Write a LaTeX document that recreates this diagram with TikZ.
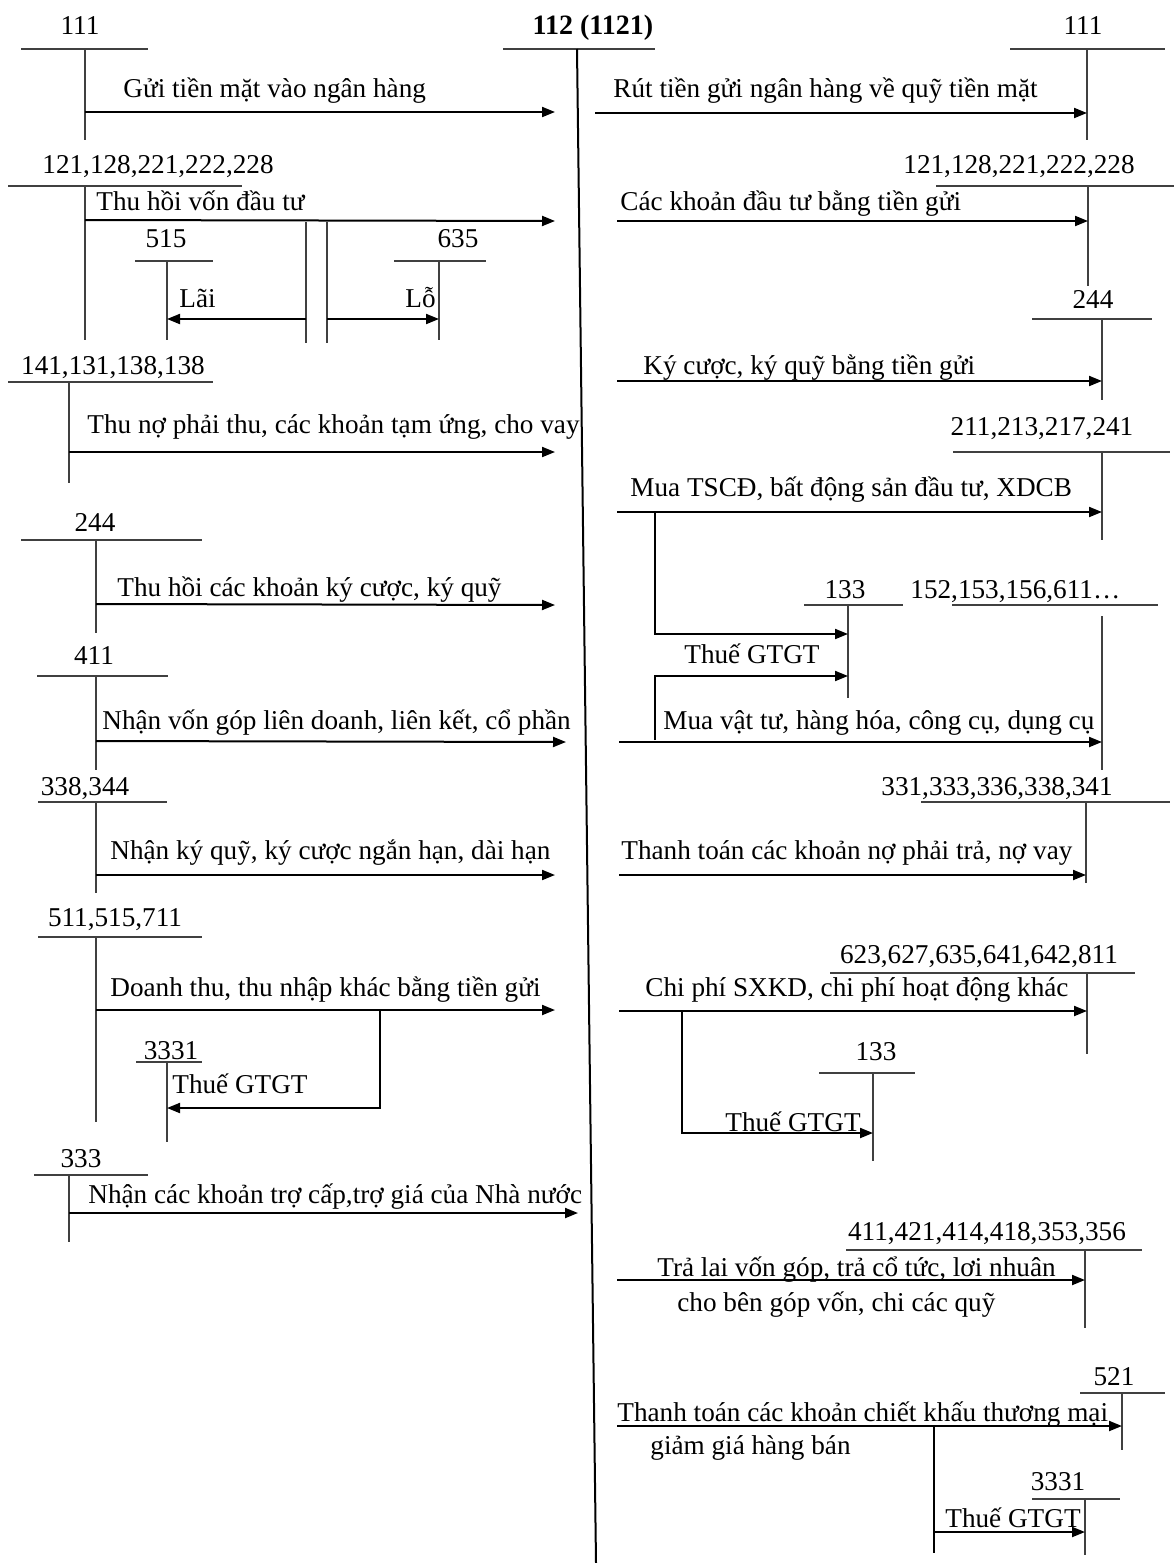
\documentclass[tikz,border=0pt]{standalone}
\usepackage{fontspec}
\setmainfont{Liberation Serif}
\usetikzlibrary{arrows.meta}
\newcommand{\fs}{\fontsize{13.6}{16}\selectfont}
\newcommand{\fsb}{\fontsize{14}{16}\selectfont\bfseries}
\begin{document}
\begin{tikzpicture}[x=0.5pt,y=-0.5pt,
  acc/.style={font=\fs, inner sep=0pt, anchor=base},
  lbl/.style={font=\fs, inner sep=0pt, anchor=base west},
  tline/.style={line width=1pt, draw=black!75},
  arr/.style={line width=1pt, draw=black, -{Triangle[length=6.5pt,width=5pt]}},
  plain/.style={line width=1pt, draw=black}]
\useasboundingbox (0,0) rectangle (1174,1563);

% ---------- main account 112 ----------
\node[acc, font=\fsb] (m) at (593,34) {112 (1121)};
\draw[tline] (503,49) -- (655,49);
\coordinate (mt) at (577,49); \coordinate (mb) at (596,1563);
\draw[plain] (mt) -- (mb);

% ---------- left: 111 ----------
\node[acc] (a111) at (80,34) {111};
\draw[tline] (21,49) -- (148,49);
\coordinate (a111t) at (85,49); \coordinate (a111b) at (85,140);
\draw[tline] (a111t) -- (a111b);
\coordinate (a111s) at (85,112); \coordinate (a111e) at (555,112);
\draw[arr] (a111s) -- (a111e);
\node[lbl] (t1) at (123,97) {Gửi tiền mặt vào ngân hàng};

% ---------- right: 111 ----------
\node[acc] (b111) at (1083,34) {111};
\draw[tline] (1010,49) -- (1165,49);
\coordinate (b111t) at (1087,49); \coordinate (b111b) at (1087,140);
\draw[tline] (b111t) -- (b111b);
\coordinate (b111s) at (595,113); \coordinate (b111e) at (1087,113);
\draw[arr] (b111s) -- (b111e);
\node[lbl] (t2) at (613,97) {Rút tiền gửi ngân hàng về quỹ tiền mặt};

% ---------- left: 121,128,... ----------
\node[acc] (a121) at (158,173) {121,128,221,222,228};
\draw[tline] (8,186) -- (242,186);
\coordinate (a121t) at (85,186); \coordinate (a121b) at (85,340);
\draw[tline] (a121t) -- (a121b);
\coordinate (a121s) at (85,220); \coordinate (a121e) at (555,221);
\draw[arr] (a121s) -- (a121e);
\node[lbl] (t3) at (96,210) {Thu hồi vốn đầu tư};
\coordinate (d1t) at (306,222); \coordinate (d1b) at (306,343);
\coordinate (d2t) at (327,222); \coordinate (d2b) at (327,343);
\draw[tline] (d1t) -- (d1b);
\draw[tline] (d2t) -- (d2b);
% 515
\node[acc] (a515) at (166,247) {515};
\draw[tline] (135,261) -- (213,261);
\coordinate (a515t) at (167,261); \coordinate (a515b) at (167,340);
\draw[tline] (a515t) -- (a515b);
\coordinate (lai1) at (306,319); \coordinate (lai2) at (167,319);
\draw[arr] (lai1) -- (lai2);
\node[lbl] (tlai) at (179,307) {Lãi};
% 635
\node[acc] (a635) at (458,247) {635};
\draw[tline] (394,261) -- (486,261);
\coordinate (a635t) at (439,261); \coordinate (a635b) at (439,340);
\draw[tline] (a635t) -- (a635b);
\coordinate (lo1) at (327,319); \coordinate (lo2) at (439,319);
\draw[arr] (lo1) -- (lo2);
\node[lbl] (tlo) at (405,307) {Lỗ};

% ---------- right: 121,128,... ----------
\node[acc] (b121) at (1019,173) {121,128,221,222,228};
\draw[tline] (936,186) -- (1174,186);
\coordinate (b121t) at (1088,186); \coordinate (b121b) at (1088,286);
\draw[tline] (b121t) -- (b121b);
\coordinate (b121s) at (617,221); \coordinate (b121e) at (1088,221);
\draw[arr] (b121s) -- (b121e);
\node[lbl] (t4) at (620,210) {Các khoản đầu tư bằng tiền gửi};

% ---------- right: 244 ----------
\node[acc] (b244) at (1093,308) {244};
\draw[tline] (1032,319) -- (1152,319);
\coordinate (b244t) at (1102,319); \coordinate (b244b) at (1102,400);
\draw[tline] (b244t) -- (b244b);
\coordinate (b244s) at (617,381); \coordinate (b244e) at (1102,381);
\draw[arr] (b244s) -- (b244e);
\node[lbl] (t5) at (643,374) {Ký cược, ký quỹ bằng tiền gửi};

% ---------- left: 141,... ----------
\node[acc] (a141) at (113,374) {141,131,138,138};
\draw[tline] (8,382) -- (213,382);
\coordinate (a141t) at (69,382); \coordinate (a141b) at (69,483);
\draw[tline] (a141t) -- (a141b);
\coordinate (a141s) at (69,452); \coordinate (a141e) at (555,452);
\draw[arr] (a141s) -- (a141e);
\node[lbl] (t6) at (87,433) {Thu nợ phải thu, các khoản tạm ứng, cho vay};

% ---------- right: 211,... ----------
\node[acc] (b211) at (1042,435) {211,213,217,241};
\draw[tline] (953,452) -- (1170,452);
\coordinate (b211t) at (1102,452); \coordinate (b211b) at (1102,540);
\draw[tline] (b211t) -- (b211b);
\coordinate (b211s) at (617,512); \coordinate (b211e) at (1102,512);
\draw[arr] (b211s) -- (b211e);
\node[lbl] (t7) at (630,496) {Mua TSCĐ, bất động sản đầu tư, XDCB};
% 133
\node[acc] (b133) at (845,598) {133};
\draw[tline] (804,605) -- (903,605);
\coordinate (b133t) at (848,605); \coordinate (b133b) at (848,698);
\draw[tline] (b133t) -- (b133b);
\coordinate (br1) at (655,512); \coordinate (br1e) at (848,634);
\draw[arr] (br1) |- (br1e);
\node[acc] (t8) at (752,663) {Thuế GTGT};
\coordinate (br2) at (655,740); \coordinate (br2e) at (848,676);
\draw[arr] (br2) |- (br2e);
% 152
\node[lbl] (b152) at (910,598) {152,153,156,611…};
\draw[tline] (952,605) -- (1158,605);
\coordinate (b152t) at (1102,616); \coordinate (b152b) at (1102,770);
\draw[tline] (b152t) -- (b152b);
\coordinate (b152s) at (619,742); \coordinate (b152e) at (1102,742);
\draw[arr] (b152s) -- (b152e);
\node[lbl] (t9) at (663,729) {Mua vật tư, hàng hóa, công cụ, dụng cụ};

% ---------- left: 244 ----------
\node[acc] (a244) at (95,531) {244};
\draw[tline] (21,540) -- (202,540);
\coordinate (a244t) at (96,540); \coordinate (a244b) at (96,633);
\draw[tline] (a244t) -- (a244b);
\coordinate (a244s) at (96,604); \coordinate (a244e) at (555,605);
\draw[arr] (a244s) -- (a244e);
\node[lbl] (t10) at (117,596) {Thu hồi các khoản ký cược, ký quỹ};

% ---------- left: 411 ----------
\node[acc] (a411) at (94,664) {411};
\draw[tline] (37,676) -- (168,676);
\coordinate (a411t) at (96,676); \coordinate (a411b) at (96,770);
\draw[tline] (a411t) -- (a411b);
\coordinate (a411s) at (96,741); \coordinate (a411e) at (566,742);
\draw[arr] (a411s) -- (a411e);
\node[lbl] (t11) at (102,729) {Nhận vốn góp liên doanh, liên kết, cổ phần};

% ---------- left: 338,344 ----------
\node[acc] (a338) at (85,795) {338,344};
\draw[tline] (38,802) -- (167,802);
\coordinate (a338t) at (96,802); \coordinate (a338b) at (96,893);
\draw[tline] (a338t) -- (a338b);
\coordinate (a338s) at (96,875); \coordinate (a338e) at (555,875);
\draw[arr] (a338s) -- (a338e);
\node[lbl] (t12) at (110,859) {Nhận ký quỹ, ký cược ngắn hạn, dài hạn};

% ---------- right: 331,... ----------
\node[acc] (b331) at (997,795) {331,333,336,338,341};
\draw[tline] (921,802) -- (1170,802);
\coordinate (b331t) at (1086,802); \coordinate (b331b) at (1086,883);
\draw[tline] (b331t) -- (b331b);
\coordinate (b331s) at (619,875); \coordinate (b331e) at (1086,875);
\draw[arr] (b331s) -- (b331e);
\node[lbl] (t13) at (621,859) {Thanh toán các khoản nợ phải trả, nợ vay};

% ---------- left: 511,515,711 ----------
\node[acc] (a511) at (115,926) {511,515,711};
\draw[tline] (38,937) -- (202,937);
\coordinate (a511t) at (96,937); \coordinate (a511b) at (96,1122);
\draw[tline] (a511t) -- (a511b);
\coordinate (a511s) at (96,1010); \coordinate (a511e) at (555,1010);
\draw[arr] (a511s) -- (a511e);
\node[lbl] (t14) at (110,996) {Doanh thu, thu nhập khác bằng tiền gửi};
% 3331
\node[acc] (a3331) at (171,1059) {3331};
\draw[tline] (136,1062) -- (202,1062);
\coordinate (a3331t) at (167,1062); \coordinate (a3331b) at (167,1142);
\draw[tline] (a3331t) -- (a3331b);
\coordinate (br3) at (380,1010); \coordinate (br3e) at (167,1108);
\draw[arr] (br3) |- (br3e);
\node[lbl] (t15) at (172,1093) {Thuế GTGT};

% ---------- left: 333 ----------
\node[acc] (a333) at (81,1167) {333};
\draw[tline] (34,1175) -- (148,1175);
\coordinate (a333t) at (69,1175); \coordinate (a333b) at (69,1242);
\draw[tline] (a333t) -- (a333b);
\coordinate (a333s) at (69,1213); \coordinate (a333e) at (578,1213);
\draw[arr] (a333s) -- (a333e);
\node[lbl] (t16) at (88,1203) {Nhận các khoản trợ cấp,trợ giá của Nhà nước};

% ---------- right: 623,... ----------
\node[acc] (b623) at (979,963) {623,627,635,641,642,811};
\draw[tline] (830,973) -- (1135,973);
\coordinate (b623t) at (1087,973); \coordinate (b623b) at (1087,1054);
\draw[tline] (b623t) -- (b623b);
\coordinate (b623s) at (619,1011); \coordinate (b623e) at (1087,1011);
\draw[arr] (b623s) -- (b623e);
\node[lbl] (t17) at (645,996) {Chi phí SXKD, chi phí hoạt động khác};
% 133
\node[acc] (c133) at (876,1060) {133};
\draw[tline] (819,1073) -- (915,1073);
\coordinate (c133t) at (873,1073); \coordinate (c133b) at (873,1161);
\draw[tline] (c133t) -- (c133b);
\coordinate (br4) at (682,1011); \coordinate (br4e) at (873,1133);
\draw[arr] (br4) |- (br4e);
\node[lbl] (t18) at (725,1131) {Thuế GTGT};

% ---------- right: 411,421,... ----------
\node[acc] (b411) at (987,1240) {411,421,414,418,353,356};
\draw[tline] (846,1250) -- (1142,1250);
\coordinate (b411t) at (1085,1250); \coordinate (b411b) at (1085,1328);
\draw[tline] (b411t) -- (b411b);
\coordinate (b411s) at (617,1280); \coordinate (b411e) at (1085,1280);
\draw[arr] (b411s) -- (b411e);
\node[lbl] (t19) at (657,1276) {Trả lai vốn góp, trả cổ tức, lơi nhuân};
\node[lbl] (t20) at (677,1311) {cho bên góp vốn, chi các quỹ};

% ---------- right: 521 ----------
\node[acc] (b521) at (1114,1385) {521};
\draw[tline] (1080,1393) -- (1165,1393);
\coordinate (b521t) at (1122,1393); \coordinate (b521b) at (1122,1450);
\draw[tline] (b521t) -- (b521b);
\coordinate (b521s) at (617,1426); \coordinate (b521e) at (1122,1426);
\draw[arr] (b521s) -- (b521e);
\node[lbl] (t21) at (617,1421) {Thanh toán các khoản chiết khấu thương mại};
\node[lbl] (t22) at (650,1454) {giảm giá hàng bán};
% 3331
\node[acc] (b3331) at (1058,1490) {3331};
\draw[tline] (1032,1499) -- (1120,1499);
\coordinate (b3331t) at (1085,1499); \coordinate (b3331b) at (1085,1555);
\draw[tline] (b3331t) -- (b3331b);
\coordinate (br5t) at (934,1426); \coordinate (br5b) at (934,1553);
\draw[plain] (br5t) -- (br5b);
\coordinate (br5s) at (934,1532); \coordinate (br5e) at (1085,1532);
\draw[arr] (br5s) -- (br5e);
\node[lbl] (t23) at (945,1527) {Thuế GTGT};
\end{tikzpicture}
\end{document}
